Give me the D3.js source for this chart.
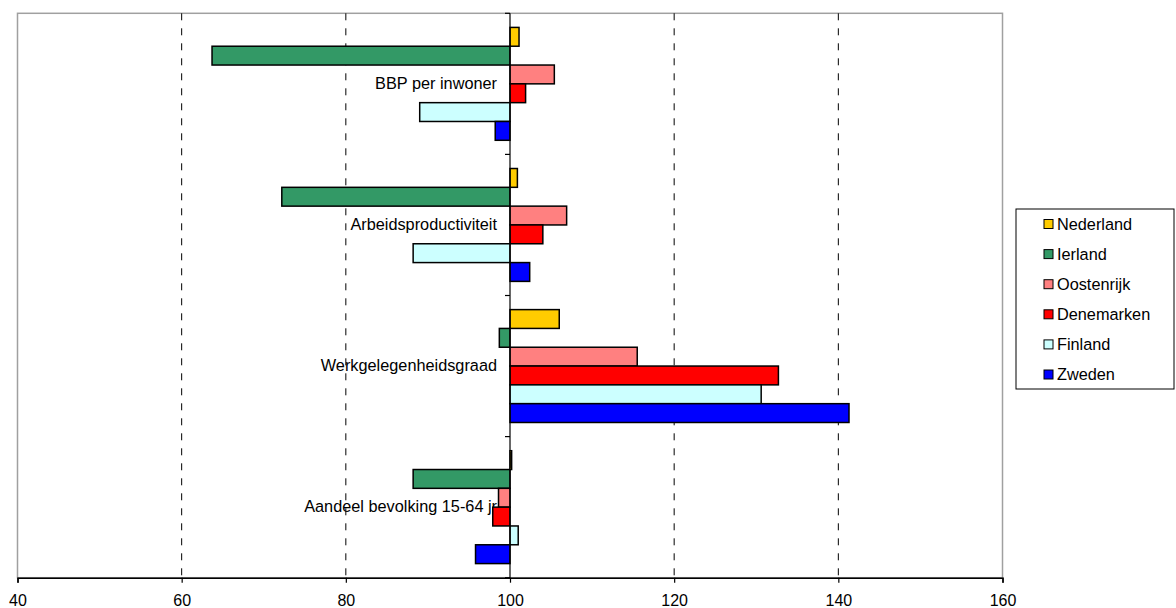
<!DOCTYPE html>
<html>
<head>
<meta charset="utf-8">
<script src="https://cdn.jsdelivr.net/npm/d3@7"></script>
<style>
  body { margin: 0; background: #fff; }
  svg { display: block; font-family: Arial, "Liberation Sans", sans-serif; }
</style>
</head>
<body>
<svg id="chart" width="1176" height="608"></svg>
<script>
const categories = ["BBP per inwoner", "Arbeidsproductiviteit", "Werkgelegenheidsgraad", "Aandeel bevolking 15-64 jr"];
const seriesNames = ["Nederland", "Ierland", "Oostenrijk", "Denemarken", "Finland", "Zweden"];
const seriesColors = ["#FFCC00", "#339966", "#FF8080", "#FF0000", "#CCFFFF", "#0000FF"];
const nederland  = [101.1, 100.9, 106.0, 100.2];
const ierland    = [63.7, 72.2, 98.7, 88.2];
const oostenrijk = [105.4, 106.9, 115.5, 98.6];
const denemarken = [101.9, 104.0, 132.7, 97.9];
const finland    = [89.0, 88.2, 130.6, 101.0];
const zweden     = [98.2, 102.4, 141.3, 95.8];
const xTicks = [40, 60, 80, 100, 120, 140, 160];
const gridTicks = [60, 80, 120, 140];

const seriesValues = [nederland, ierland, oostenrijk, denemarken, finland, zweden];

const svg = d3.select("#chart");
const L = 17.5, R = 1002.5, T = 13.3, B = 577.7;
const FS = 16.3;
const x = d3.scaleLinear().domain([40, 160]).range([L, R]);
const y0 = d3.scaleBand().domain(categories).range([T, B]).padding(0);
const y1 = d3.scaleBand().domain(seriesNames).range([0, y0.bandwidth()]).paddingInner(0).paddingOuter(0.75);
const base = 100;

// plot border (gray)
svg.append("rect").attr("x", L).attr("y", T).attr("width", R - L).attr("height", B - T)
  .attr("fill", "none").attr("stroke", "#a0a0a0").attr("stroke-width", 1.5);

// gridlines
svg.append("g").selectAll("line").data(gridTicks).join("line")
  .attr("x1", d => x(d)).attr("x2", d => x(d)).attr("y1", T).attr("y2", B)
  .attr("stroke", "#000").attr("stroke-width", 1).attr("stroke-dasharray", "7,8");

// category labels (drawn under bars)
svg.append("g").selectAll("text").data(categories).join("text")
  .attr("x", x(base) - 13).attr("y", d => y0(d) + y0.bandwidth() / 2)
  .attr("dy", "0.3em").attr("text-anchor", "end")
  .attr("font-size", FS).attr("fill", "#000").text(d => d);

// bars
const barData = [];
seriesNames.forEach((s, si) => {
  categories.forEach((c, ci) => barData.push({ s, c, v: seriesValues[si][ci], color: seriesColors[si] }));
});
svg.append("g").selectAll("rect").data(barData).join("rect")
  .attr("x", d => x(Math.min(d.v, base)))
  .attr("width", d => Math.abs(x(d.v) - x(base)))
  .attr("y", d => y0(d.c) + y1(d.s))
  .attr("height", y1.bandwidth())
  .attr("fill", d => d.color).attr("stroke", "#000").attr("stroke-width", 1.5);

// vertical category axis at 100
const yAxisG = svg.append("g");
yAxisG.append("line").attr("x1", x(base)).attr("x2", x(base)).attr("y1", T).attr("y2", B)
  .attr("stroke", "#000").attr("stroke-width", 1.2);
const boundaries = categories.map(c => y0(c)).concat([B]);
yAxisG.selectAll("line.tk").data(boundaries).join("line").attr("class", "tk")
  .attr("x1", x(base) - 5).attr("x2", x(base)).attr("y1", d => d).attr("y2", d => d)
  .attr("stroke", "#000").attr("stroke-width", 1.2);

// x axis
const xAxis = d3.axisBottom(x).tickValues(xTicks).tickSize(5).tickPadding(12).tickFormat(d3.format("d"));
const gx = svg.append("g").attr("transform", `translate(0,${B})`).call(xAxis);
gx.select(".domain").attr("stroke", "#000").attr("stroke-width", 1.5);
gx.selectAll(".tick line").attr("stroke", "#000").attr("stroke-width", 1.2);
gx.selectAll(".tick text").attr("font-size", 16).attr("font-family", "Arial, 'Liberation Sans', sans-serif").attr("fill", "#000");

// legend
const lg = svg.append("g");
lg.append("rect").attr("x", 1016).attr("y", 209).attr("width", 158).attr("height", 180)
  .attr("fill", "#fff").attr("stroke", "#000").attr("stroke-width", 1);
const items = lg.selectAll("g.item").data(seriesNames).join("g").attr("class", "item")
  .attr("transform", (d, i) => `translate(1044,${219.5 + i * 30.1})`);
items.append("rect").attr("width", 9).attr("height", 9)
  .attr("fill", (d, i) => seriesColors[i]).attr("stroke", "#000").attr("stroke-width", 1);
items.append("text").attr("x", 13).attr("y", 10).attr("font-size", FS).attr("fill", "#000").text(d => d);
</script>
</body>
</html>
